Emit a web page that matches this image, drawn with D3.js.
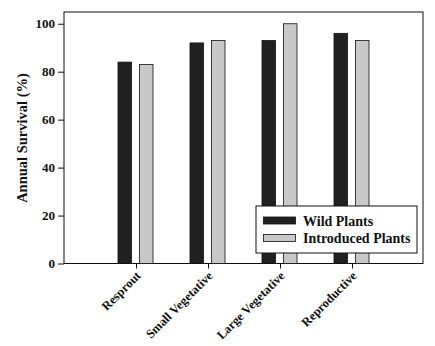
<!DOCTYPE html>
<html><head><meta charset="utf-8">
<script src="https://cdn.jsdelivr.net/npm/d3@7"></script>
<style>body{margin:0;background:#fff}svg{display:block}svg text{font-family:"Liberation Serif","Times New Roman","DejaVu Serif",serif !important;font-weight:bold;fill:#111}</style>
</head><body>
<svg id="c" width="435" height="346"></svg>
<script>
const categories = ["Resprout","Small Vegetative","Large Vegetative","Reproductive"];
const wild = [84, 92, 93, 96];
const introduced = [83, 93, 100, 93];
const yTicks = [0, 20, 40, 60, 80, 100];
const seriesNames = ["Wild Plants", "Introduced Plants"];
const colors = ["#202020", "#c8c8c8"];
const FONT = "'Liberation Serif', 'Times New Roman', serif";

const svg = d3.select("#c");
const L = 64, R = 423, T = 12, B = 263.5;
const x = d3.scaleLinear().domain([0, 5]).range([L, R + 1]);
const y = d3.scaleLinear().domain([0, 104.9]).range([B, T]);

svg.append("rect").attr("x", L).attr("y", T).attr("width", R - L).attr("height", B - T)
  .attr("fill", "none").attr("stroke", "#111").attr("stroke-width", 1);

const ya = svg.append("g").attr("transform", `translate(${L},0)`)
  .call(d3.axisLeft(y).tickValues(yTicks).tickSize(6).tickPadding(3).tickFormat(d3.format("d")));
ya.attr("font-family", FONT).attr("font-size", 13);
ya.select(".domain").remove();
ya.selectAll("line").attr("stroke", "#111");

const xa = svg.append("g").attr("transform", `translate(0,${B})`)
  .call(d3.axisBottom(x).tickValues([1, 2, 3, 4]).tickSize(5).tickFormat(d => categories[d - 1]));
xa.attr("font-family", FONT).attr("font-size", 12.5);
xa.select(".domain").remove();
xa.selectAll("line").attr("stroke", "#111");
xa.selectAll("text")
  .attr("text-anchor", "end").attr("dy", null).attr("y", 0)
  .attr("transform", "translate(5,13) rotate(-45)");

const bw = 13.5;
const series = [wild, introduced];
const offs = [-18, 3.5];
series.forEach((vals, s) => {
  svg.append("g").selectAll("rect").data(vals).join("rect")
    .attr("x", (d, i) => x(i + 1) + offs[s])
    .attr("y", d => y(d))
    .attr("width", bw)
    .attr("height", d => y(0) - y(d))
    .attr("fill", colors[s]).attr("stroke", "#111").attr("stroke-width", 0.8);
});

svg.append("text").attr("transform", "translate(27,138) rotate(-90)")
  .attr("font-family", FONT).attr("font-size", 14.5)
  .attr("text-anchor", "middle").text("Annual Survival (%)");

const lg = svg.append("g").attr("font-family", FONT);
lg.append("rect").attr("x", 256).attr("y", 206).attr("width", 161).attr("height", 47)
  .attr("fill", "#fff").attr("stroke", "#111").attr("stroke-width", 1);
seriesNames.forEach((n, i) => {
  const yy = 217 + i * 17.5;
  lg.append("rect").attr("x", 263.5).attr("y", yy).attr("width", 32).attr("height", 7)
    .attr("fill", colors[i]).attr("stroke", "#111").attr("stroke-width", 0.8);
  lg.append("text").attr("x", 303).attr("y", yy + 8.5).attr("font-size", 14).text(n);
});
</script>
</body></html>
